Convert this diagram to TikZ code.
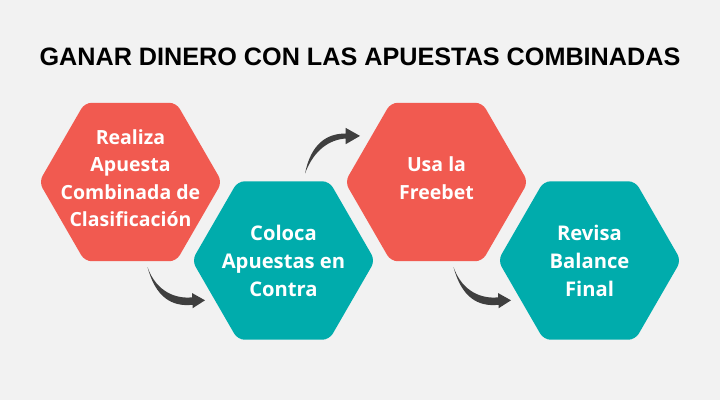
\documentclass[tikz,border=0pt]{standalone}
\usepackage{fontspec}
\setmainfont{Open Sans}
\newfontfamily\titlefont{Liberation Sans}
\usepackage{xcolor}
\usepackage{tikz}
\usetikzlibrary{shapes.geometric, calc}
\definecolor{bgcol}{HTML}{F2F2F2}
\definecolor{redcol}{HTML}{F15A50}
\definecolor{tealcol}{HTML}{00ACAC}
\definecolor{arrowcol}{HTML}{3F3F3F}
\tikzset{
  hexbox/.style={regular polygon, regular polygon sides=6, minimum size=183pt, inner sep=-24pt, outer sep=0pt,
    rounded corners=7pt, text=white, align=center},
  hexred/.style={hexbox, fill=redcol, text depth=8pt, font=\fontsize{19.5}{27.4}\selectfont\bfseries},
  hexteal/.style={hexbox, fill=tealcol, font=\fontsize{20.2}{28}\selectfont\bfseries},
  curvedown/.style={fill=arrowcol, to path={
    ($(\tikztostart.center)+(17,85)$) coordinate (st)
    .. controls ($(st)+(8,30)$) and ($(st)+(24,40)$) .. ($(st)+(45,37.8)$)
    -- ($(st)+(45,41.3)$) -- ($(st)+(57.5,33.3)$) -- ($(st)+(44.5,26)$) -- ($(st)+(44.5,30.3)$)
    .. controls ($(st)+(30,32)$) and ($(st)+(9,26)$) .. (st) -- cycle}},
  curveup/.style={fill=arrowcol, to path={
    ($(\tikztostart.center)+(21.5,-87)$) coordinate (st)
    .. controls ($(st)+(6,-30)$) and ($(st)+(22,-40)$) .. ($(st)+(40.7,-40)$)
    -- ($(st)+(40.7,-45.6)$) -- ($(st)+(55,-37.6)$) -- ($(st)+(40.7,-29.3)$) -- ($(st)+(40.7,-35)$)
    .. controls ($(st)+(25,-34)$) and ($(st)+(9,-24)$) .. (st) -- cycle}}
}
\begin{document}
\begin{tikzpicture}[x=1pt, y=-1pt]
  \fill[bgcol] (0,0) rectangle (720,400);
  \useasboundingbox (0,0) rectangle (720,400);
  \node[font=\titlefont\fontsize{25.2}{30}\selectfont\bfseries] (title) at (360,57) {GANAR DINERO CON LAS APUESTAS COMBINADAS};
  \node[hexred] (realiza) at (130.5,182) {Realiza\\Apuesta\\Combinada de\\Clasificación};
  \node[hexteal] (coloca) at (283.5,260.5) {Coloca\\Apuestas en\\Contra};
  \node[hexred] (usa) at (436.5,182) {Usa la\\Freebet};
  \node[hexteal] (revisa) at (589.5,260.5) {Revisa\\Balance\\Final};
  \fill[curvedown] (realiza) to (coloca);
  \fill[curveup] (coloca) to (usa);
  \fill[curvedown] (usa) to (revisa);
\end{tikzpicture}
\end{document}
